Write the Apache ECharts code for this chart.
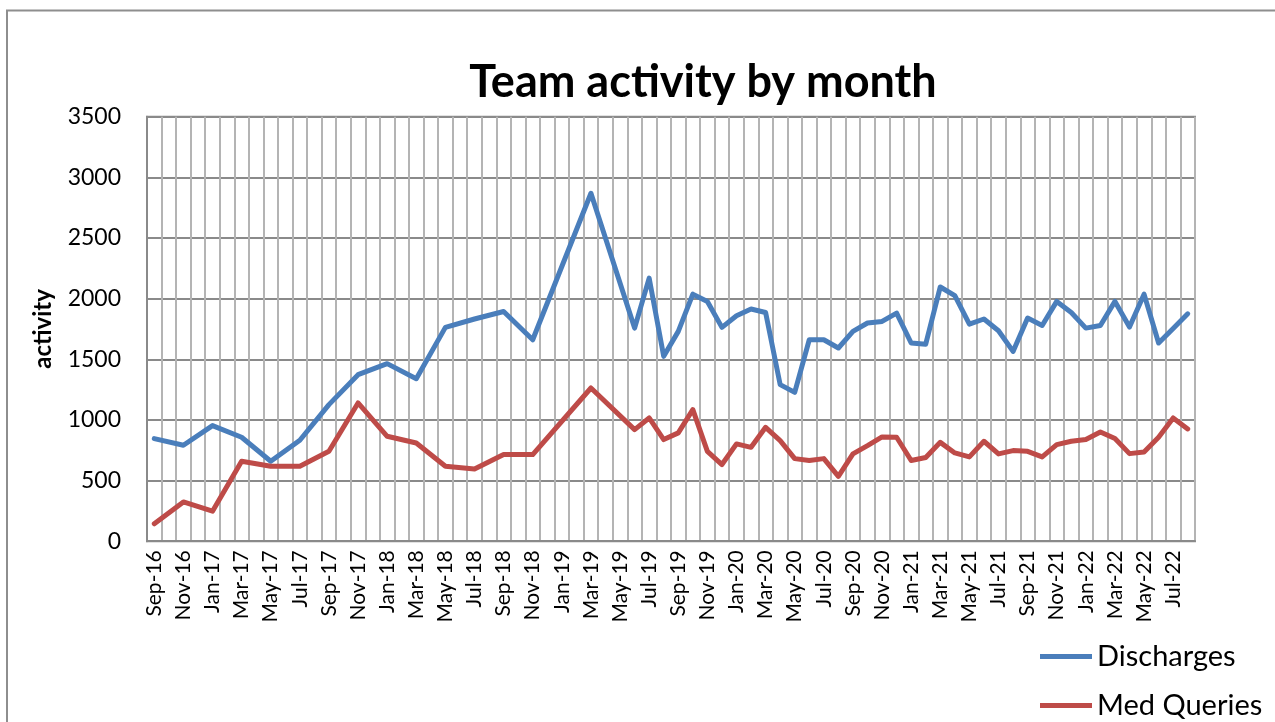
<!DOCTYPE html>
<html>
<head>
<meta charset="utf-8">
<script src="https://cdn.jsdelivr.net/npm/echarts@6/dist/echarts.min.js"></script>
<style>
html,body{margin:0;padding:0;background:#fff;}
#chart{width:1275px;height:722px;}
</style>
</head>
<body>
<div id="chart"></div>
<script>
const months = [
  'Sep-16','Oct-16','Nov-16','Dec-16','Jan-17','Feb-17','Mar-17','Apr-17','May-17','Jun-17','Jul-17','Aug-17',
  'Sep-17','Oct-17','Nov-17','Dec-17','Jan-18','Feb-18','Mar-18','Apr-18','May-18','Jun-18','Jul-18','Aug-18',
  'Sep-18','Oct-18','Nov-18','Dec-18','Jan-19','Feb-19','Mar-19','Apr-19','May-19','Jun-19','Jul-19','Aug-19',
  'Sep-19','Oct-19','Nov-19','Dec-19','Jan-20','Feb-20','Mar-20','Apr-20','May-20','Jun-20','Jul-20','Aug-20',
  'Sep-20','Oct-20','Nov-20','Dec-20','Jan-21','Feb-21','Mar-21','Apr-21','May-21','Jun-21','Jul-21','Aug-21',
  'Sep-21','Oct-21','Nov-21','Dec-21','Jan-22','Feb-22','Mar-22','Apr-22','May-22','Jun-22','Jul-22','Aug-22'
];

const discharges = [
  846, null, 791, null, 953, null, 857, null, 659, null, 832, null,
  1126, null, 1373, null, 1464, null, 1340, null, 1763, null, 1832, null,
  1894, null, 1661, null, null, null, 2869, null, null, 1757, 2169, 1524,
  1730, 2037, 1977, 1763, 1859, 1914, 1886, 1291, 1227, 1661, 1661, 1593,
  1730, 1799, 1812, 1881, 1634, 1624, 2096, 2024, 1790, 1832, 1735, 1565,
  1840, 1779, 1977, 1886, 1757, 1779, 1977, 1766, 2037, 1634, 1754, 1875
];

const medQueries = [
  143, null, 324, null, 247, null, 659, null, 618, null, 618, null,
  741, null, 1140, null, 865, null, 810, null, 618, null, 596, null,
  714, null, 714, null, null, null, 1263, null, null, 920, 1016, 838,
  893, 1085, 741, 632, 802, 774, 939, 829, 681, 665, 681, 535,
  720, 788, 860, 857, 665, 690, 815, 728, 695, 824, 720, 747,
  741, 695, 796, 824, 838, 901, 846, 722, 736, 857, 1016, 926
];

const seriesNames = ['Discharges', 'Med Queries'];
const yTicks = { min: 0, max: 3500, interval: 500 };
const titleText = 'Team activity by month';
const yAxisName = 'activity';

const chart = echarts.init(document.getElementById('chart'), null, { renderer: 'canvas' });
const FONT = 'Lato';

chart.setOption({
  backgroundColor: '#ffffff',
  animation: false,
  graphic: [{
    type: 'rect',
    z: -10,
    shape: { x: 7, y: 10.5, width: 1400, height: 900 },
    style: { fill: 'none', stroke: '#8e8e8e', lineWidth: 2 }
  }],
  title: {
    text: titleText,
    left: 703,
    top: 82,
    padding: 0,
    textAlign: 'center',
    textVerticalAlign: 'middle',
    textStyle: { fontFamily: FONT, fontWeight: 'bold', fontSize: 45, color: '#000' }
  },
  legend: {
    orient: 'vertical',
    left: 1040,
    top: 642,
    height: 200,
    padding: 0,
    itemWidth: 52,
    itemHeight: 5,
    itemGap: 20,
    icon: 'rect',
    textStyle: { fontFamily: FONT, fontSize: 29, color: '#000', lineHeight: 28 },
    data: seriesNames
  },
  grid: { left: 147, top: 116.7, width: 1048, height: 424.5, show: true, borderColor: '#8a8a8a', borderWidth: 2 },
  xAxis: {
    type: 'category',
    data: months,
    boundaryGap: true,
    axisLine: { show: true, lineStyle: { color: '#8a8a8a', width: 2 } },
    axisTick: { show: false },
    axisLabel: { interval: 1, rotate: 90, margin: 9, fontFamily: FONT, fontSize: 21, color: '#000' },
    splitLine: { show: true, interval: 0, lineStyle: { color: '#b4b4b4', width: 2 } }
  },
  yAxis: {
    type: 'value',
    min: yTicks.min,
    max: yTicks.max,
    interval: yTicks.interval,
    name: yAxisName,
    nameLocation: 'middle',
    nameGap: 92,
    nameTextStyle: { fontFamily: FONT, fontWeight: 'bold', fontSize: 24, color: '#000' },
    axisLine: { show: true, lineStyle: { color: '#8a8a8a', width: 2 } },
    axisTick: { show: false },
    axisLabel: { margin: 26, fontFamily: FONT, fontSize: 23, color: '#000', formatter: function (v) { return String(v); } },
    splitLine: { show: true, lineStyle: { color: '#8a8a8a', width: 2 } }
  },
  series: [
    {
      name: seriesNames[0], type: 'line', data: discharges, connectNulls: true,
      symbol: 'none', color: '#4a7ebb',
      lineStyle: { width: 5, color: '#4a7ebb', join: 'round', cap: 'round' }
    },
    {
      name: seriesNames[1], type: 'line', data: medQueries, connectNulls: true,
      symbol: 'none', color: '#be4b48',
      lineStyle: { width: 5, color: '#be4b48', join: 'round', cap: 'round' }
    }
  ]
});
</script>
</body>
</html>
